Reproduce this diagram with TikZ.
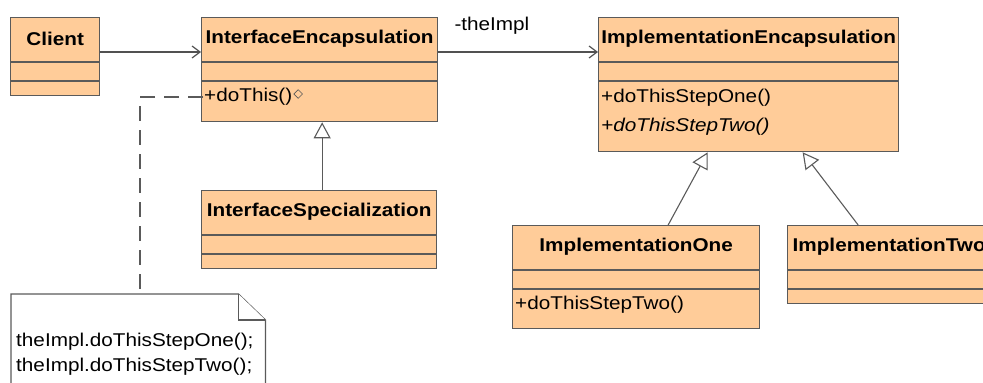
\documentclass[tikz,border=0pt]{standalone}
\usepackage{fontspec}
\setmainfont[FakeStretch=1.12]{Liberation Sans}
\usetikzlibrary{positioning,calc,arrows.meta,shapes.geometric}
\definecolor{classfill}{HTML}{FFCC99}
\definecolor{classline}{HTML}{5A5A5A}
\tikzset{font=\fontsize{18.5}{22}\selectfont}

\begin{document}
\begin{tikzpicture}[x=1pt, y=-1pt]
	\useasboundingbox (0,0) rectangle (983,383);
	\begin{scope}
		\tikzstyle{umlclass}=[draw=classline, fill=classfill, line width=1.3pt, anchor=north west, inner sep=0pt]
		\tikzstyle{classname}=[font=\fontsize{18.5}{22}\selectfont\bfseries, inner sep=1pt]
		\tikzstyle{operation}=[anchor=west, inner sep=1pt]
		\tikzstyle{compartline}=[draw=classline, line width=1.3pt]
		\tikzstyle{assoc}=[draw=classline!90!black, line width=1.2pt, -{Straight Barb[length=8pt, width=12pt]}]
		\tikzstyle{inherit}=[draw=classline, line width=1.1pt, -{Triangle[length=16pt, width=17pt, fill=white]}]
		\tikzstyle{notebox}=[draw=classline, line width=1.3pt, fill=white]
		\tikzstyle{noteline}=[draw=classline, line width=1.2pt, dash pattern=on 15pt off 9pt]

		% class boxes
		\node[umlclass, minimum width=89, minimum height=78] (client) at (10,17) {};
		\node[umlclass, minimum width=236, minimum height=104] (ie) at (201,17) {};
		\node[umlclass, minimum width=235, minimum height=78] (is) at (201,190) {};
		\node[umlclass, minimum width=300, minimum height=134] (impe) at (598,17) {};
		\node[umlclass, minimum width=247, minimum height=103] (impone) at (512,225) {};
		\node[umlclass, minimum width=203, minimum height=78] (imptwo) at (787,225) {};

		\foreach \c in {client, ie, is, impe, impone, imptwo} {
			\draw[compartline] ([yshift=-45pt]\c.north west) -- ([yshift=-45pt]\c.north east);
			\draw[compartline] ([yshift=-64pt]\c.north west) -- ([yshift=-64pt]\c.north east);
		}

		\node[classname] (clientname) at ([yshift=-22pt]client.north) {Client};
		\node[classname] (iename) at ([yshift=-22pt]ie.north) {InterfaceEncapsulation};
		\node[classname] (isname) at ([yshift=-22pt]is.north) {InterfaceSpecialization};
		\node[classname] (impename) at ([yshift=-22pt]impe.north) {ImplementationEncapsulation};
		\node[classname] (imponename) at ([yshift=-22pt]impone.north) {ImplementationOne};
		\node[classname] (imptwoname) at ([yshift=-22pt]imptwo.north) {ImplementationTwo};

		% operations
		\node[operation] (dothis) at ([xshift=2pt, yshift=-80pt]ie.north west) {+doThis()};
		\node[draw=classline, diamond, inner sep=2.2pt, line width=0.7pt, right=0pt of dothis, yshift=3pt] (dothismark) {};
		\node[operation] (stepone) at ([xshift=2pt, yshift=-81pt]impe.north west) {+doThisStepOne()};
		\node[operation] (steptwo) at ([xshift=2pt, yshift=-110pt]impe.north west) {\itshape +doThisStepTwo()};
		\node[operation] (onesteptwo) at ([xshift=2pt, yshift=-80pt]impone.north west) {+doThisStepTwo()};

		% note
		\node[anchor=north west, minimum width=254, minimum height=110, inner sep=0pt] (note) at (11,294) {};
		\draw[notebox] (note.north west) -- ([xshift=-27pt]note.north east) -- ([yshift=-26pt]note.north east) -- (note.south east) -- (note.south west) -- cycle;
		\draw[notebox] ([xshift=-27pt]note.north east) |- ([yshift=-26pt]note.north east);
		\node[operation] (noteone) at ([xshift=4pt, yshift=-48pt]note.north west) {theImpl.doThisStepOne();};
		\node[operation] (notetwo) at ([xshift=4pt, yshift=-73pt]note.north west) {theImpl.doThisStepTwo();};

		% connectors
		\draw[assoc] ([yshift=-35pt]client.north east) -- ([yshift=-35pt]ie.north west);
		\draw[assoc] ([yshift=-35pt]ie.north east) -- ([yshift=-35pt]impe.north west);
		\node[anchor=base west, inner sep=0pt] (theimpl) at ([xshift=16pt, yshift=-13pt]ie.north east) {-theImpl};
		\draw[inherit] ([xshift=3pt]is.north) -- ([xshift=3pt]is.north |- ie.south);
		\draw[inherit] ([xshift=32pt]impone.north) -- ([xshift=-41pt]impe.south);
		\draw[inherit] ([xshift=-31pt]imptwo.north) -- ([xshift=54pt]impe.south);
		\draw[noteline] (dothis.west) -| ([xshift=129pt]note.north west);
	\end{scope}
\end{tikzpicture}
\end{document}
